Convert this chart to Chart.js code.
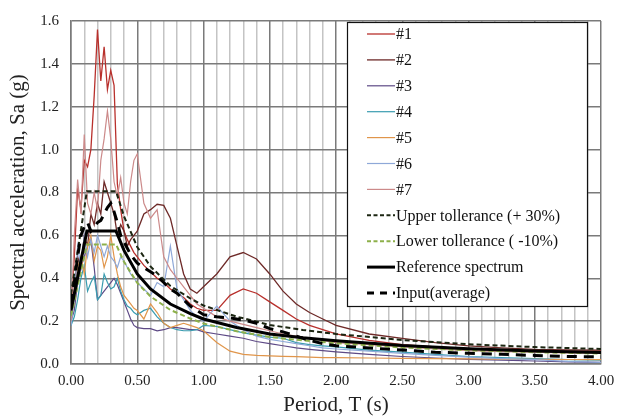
<!DOCTYPE html>
<html>
<head>
<meta charset="utf-8">
<script src="https://cdn.jsdelivr.net/npm/chart.js@4.4.0/dist/chart.umd.min.js"></script>
<style>
  html, body { margin: 0; padding: 0; background: #fff; }
  #wrap { width: 625px; height: 418px; }
</style>
</head>
<body>
<div id="wrap"><canvas id="spectra" width="625" height="418"></canvas></div>
<script>
// Periods (s) shared by the seven records and the input average
const periods = [0, 0.025, 0.05, 0.075, 0.1, 0.125, 0.15, 0.175, 0.2, 0.225, 0.25, 0.275, 0.3, 0.325, 0.35, 0.375, 0.4, 0.425, 0.45, 0.475, 0.5,
  0.55, 0.6, 0.65, 0.7, 0.75, 0.8, 0.85, 0.9, 0.95, 1.0,
  1.1, 1.2, 1.3, 1.4, 1.5, 1.6, 1.7, 1.8, 1.9, 2.0,
  2.25, 2.5, 2.75, 3.0, 3.25, 3.5, 3.75, 4.0];

// Spectral acceleration (g) of each record
const rec1 = [0.25, 0.5, 0.82, 0.72, 0.95, 0.92, 1.0, 1.25, 1.56, 1.32, 1.48, 1.28, 1.37, 1.3, 0.84, 0.72, 0.62, 0.58, 0.55, 0.52, 0.5,
  0.46, 0.43, 0.4, 0.38, 0.35, 0.33, 0.31, 0.28, 0.26, 0.25,
  0.25, 0.32, 0.35, 0.33, 0.29, 0.25, 0.21, 0.18, 0.16, 0.14,
  0.11, 0.09, 0.08, 0.07, 0.065, 0.06, 0.06, 0.06];
const rec2 = [0.22, 0.35, 0.5, 0.45, 0.6, 0.55, 0.7, 0.65, 0.75, 0.7, 0.85, 0.8, 0.75, 0.7, 0.6, 0.65, 0.62, 0.55, 0.58, 0.6, 0.62,
  0.7, 0.72, 0.745, 0.74, 0.68, 0.55, 0.42, 0.35, 0.33, 0.36,
  0.42, 0.5, 0.52, 0.49, 0.42, 0.34, 0.28, 0.24, 0.21, 0.18,
  0.14, 0.12, 0.1, 0.085, 0.075, 0.068, 0.066, 0.065];
const rec3 = [0.2, 0.25, 0.38, 0.45, 0.5, 0.55, 0.58, 0.45, 0.3, 0.32, 0.34, 0.36, 0.38, 0.4, 0.37, 0.33, 0.29, 0.25, 0.21, 0.18, 0.17,
  0.165, 0.165, 0.155, 0.16, 0.17, 0.17, 0.165, 0.16, 0.16, 0.15,
  0.14, 0.13, 0.12, 0.105, 0.095, 0.085, 0.075, 0.068, 0.062, 0.057,
  0.045, 0.035, 0.028, 0.022, 0.018, 0.014, 0.01, 0.008];
const rec4 = [0.18, 0.22, 0.3, 0.4, 0.46, 0.34, 0.38, 0.41, 0.3, 0.32, 0.42, 0.38, 0.35, 0.36, 0.4, 0.34, 0.3, 0.27, 0.26, 0.24, 0.23,
  0.25, 0.26, 0.22, 0.19, 0.17, 0.16, 0.155, 0.155, 0.16, 0.18,
  0.175, 0.16, 0.145, 0.135, 0.125, 0.12, 0.1, 0.09, 0.085, 0.08,
  0.065, 0.055, 0.045, 0.035, 0.03, 0.025, 0.02, 0.018];
const rec5 = [0.2, 0.3, 0.45, 0.5, 0.42, 0.55, 0.6, 0.48, 0.55, 0.53, 0.45, 0.5, 0.6, 0.5, 0.42, 0.36, 0.32, 0.3, 0.28, 0.26, 0.25,
  0.21, 0.28, 0.24, 0.19, 0.17, 0.18, 0.19, 0.18, 0.17, 0.155,
  0.1, 0.06, 0.045, 0.04, 0.038, 0.036, 0.034, 0.032, 0.03, 0.03,
  0.028, 0.026, 0.025, 0.024, 0.023, 0.022, 0.021, 0.02];
const rec6 = [0.18, 0.3, 0.55, 0.45, 0.6, 0.5, 0.58, 0.52, 0.6, 0.55, 0.5, 0.55, 0.5, 0.48, 0.45, 0.5, 0.48, 0.45, 0.42, 0.4, 0.38,
  0.35, 0.32, 0.38, 0.36, 0.55, 0.35, 0.3, 0.25, 0.22, 0.2,
  0.27, 0.2, 0.16, 0.13, 0.115, 0.105, 0.095, 0.085, 0.075, 0.07,
  0.06, 0.05, 0.04, 0.032, 0.025, 0.02, 0.012, 0.008];
const rec7 = [0.2, 0.6, 0.86, 0.7, 1.07, 0.75, 0.7, 0.8, 0.72, 0.95, 1.05, 1.18, 1.05, 0.85, 0.78, 0.87, 0.75, 0.7, 0.85, 0.95, 0.98,
  0.75, 0.68, 0.72, 0.5, 0.44, 0.4, 0.36, 0.32, 0.28, 0.26,
  0.22, 0.2, 0.185, 0.17, 0.155, 0.14, 0.13, 0.12, 0.11, 0.1,
  0.09, 0.08, 0.07, 0.062, 0.058, 0.055, 0.052, 0.05];
const inputAvg = [0.28, 0.38, 0.5, 0.6, 0.64, 0.66, 0.62, 0.64, 0.66, 0.67, 0.7, 0.73, 0.75, 0.71, 0.66, 0.6, 0.57, 0.54, 0.51, 0.49, 0.47,
  0.45, 0.43, 0.41, 0.38, 0.35, 0.33, 0.3, 0.27, 0.25, 0.23,
  0.22, 0.215, 0.205, 0.19, 0.165, 0.15, 0.13, 0.11, 0.095, 0.085,
  0.075, 0.065, 0.055, 0.05, 0.045, 0.04, 0.035, 0.033];

// Reference (target) spectrum and its tolerance bands
const refPeriods = [0, 0.12, 0.34, 0.4, 0.5, 0.6, 0.75, 0.9, 1.0, 1.25, 1.5, 1.75, 2.0, 2.5, 3.0, 3.5, 4.0];
const refSa   = [0.25, 0.62, 0.62, 0.53, 0.42, 0.35, 0.28, 0.235, 0.21, 0.17, 0.14, 0.122, 0.108, 0.086, 0.071, 0.061, 0.054];
const upperSa = [0.325, 0.806, 0.806, 0.689, 0.546, 0.455, 0.364, 0.306, 0.273, 0.221, 0.182, 0.159, 0.14, 0.112, 0.092, 0.079, 0.07];
const lowerSa = [0.225, 0.558, 0.558, 0.477, 0.378, 0.315, 0.252, 0.212, 0.189, 0.153, 0.126, 0.11, 0.097, 0.077, 0.064, 0.055, 0.049];

const seriesNames = ['#1', '#2', '#3', '#4', '#5', '#6', '#7',
  'Upper tollerance (+ 30%)', 'Lower tollerance ( -10%)', 'Reference spectrum', 'Input(average)'];

const SERIF = '"Liberation Serif", "Times New Roman", serif';

function pts(xs, ys) {
    return xs.map((x, i) => ({ x: x, y: ys[i] }));
}

function isMajorX(v) {
    return Math.abs(v * 2 - Math.round(v * 2)) < 1e-6;
}

const records = [rec1, rec2, rec3, rec4, rec5, rec6, rec7];
const recColors = ['#b8302c', '#6e2a28', '#5e4a86', '#3a9cb0', '#e0954a', '#8ea8d8', '#cc8a8a'];
const recWidths = [1.3, 1.3, 1.2, 1.2, 1.2, 1.2, 1.2];

const datasets = records.map((r, i) => ({
    label: seriesNames[i],
    data: pts(periods, r),
    borderColor: recColors[i],
    borderWidth: recWidths[i],
    order: 20 - i
}));

datasets.push({ label: seriesNames[7], data: pts(refPeriods, upperSa), borderColor: '#1c2612', borderWidth: 2, borderDash: [5, 3], order: 3 });
datasets.push({ label: seriesNames[8], data: pts(refPeriods, lowerSa), borderColor: '#8db04a', borderWidth: 2, borderDash: [5, 3], order: 4 });
datasets.push({ label: seriesNames[9], data: pts(refPeriods, refSa), borderColor: '#000', borderWidth: 3, order: 1 });
datasets.push({ label: seriesNames[10], data: pts(periods, inputAvg), borderColor: '#000', borderWidth: 3, borderDash: [10, 7], order: 2 });

/**
 * Legenda w ramce wewnątrz obszaru wykresu.
 */
const boxLegend = {
    id: 'boxLegend',
    afterDatasetsDraw(chart) {
        const ctx = chart.ctx;
        const bx = 347, by = 22, bw = 240, bh = 284;
        ctx.save();
        ctx.fillStyle = '#fff';
        ctx.fillRect(bx, by, bw, bh);
        ctx.strokeStyle = '#111';
        ctx.lineWidth = 1.2;
        ctx.strokeRect(bx + 0.5, by + 0.5, bw, bh);
        ctx.font = '16px ' + SERIF;
        ctx.textBaseline = 'middle';
        ctx.fillStyle = '#111';
        chart.data.datasets.forEach((ds, i) => {
            const y = 34 + i * 25.9;
            ctx.beginPath();
            ctx.strokeStyle = ds.borderColor;
            ctx.lineWidth = ds.borderWidth;
            ctx.setLineDash(ds.borderDash ? (ds.borderDash[0] > 6 ? [7, 6] : [4, 2.5]) : []);
            ctx.moveTo(367, y);
            ctx.lineTo(395, y);
            ctx.stroke();
            ctx.setLineDash([]);
            ctx.fillText(ds.label, 396, y + 1);
        });
        ctx.restore();
    }
};

new Chart(document.getElementById('spectra'), {
    type: 'line',
    data: { datasets: datasets },
    options: {
        responsive: false,
        animation: false,
        devicePixelRatio: 1,
        elements: { point: { radius: 0 }, line: { tension: 0, fill: false } },
        layout: { padding: { top: 11, right: 24, left: 0, bottom: 0 } },
        plugins: { legend: { display: false }, tooltip: { enabled: false } },
        scales: {
            x: {
                type: 'linear',
                min: 0, max: 4,
                afterFit(scale) { scale.height = 54; },
                ticks: {
                    stepSize: 0.1,
                    autoSkip: false,
                    maxRotation: 0,
                    padding: 8,
                    color: '#222',
                    font: { family: SERIF, size: 15 },
                    callback: v => isMajorX(v) ? v.toFixed(2) : ''
                },
                grid: {
                    drawTicks: false,
                    color: c => isMajorX(c.tick.value) ? '#7a7a7a' : '#c4c4c4',
                    lineWidth: 1.5
                },
                border: { color: '#7a7a7a', width: 1.5 },
                title: {
                    display: true,
                    text: 'Period, T (s)',
                    color: '#222',
                    font: { family: SERIF, size: 21 },
                    padding: { top: 0, bottom: 0 }
                }
            },
            y: {
                min: 0, max: 1.6,
                afterFit(scale) { scale.width = 71; },
                ticks: {
                    stepSize: 0.2,
                    padding: 12,
                    color: '#222',
                    font: { family: SERIF, size: 15 },
                    callback: v => v.toFixed(1)
                },
                grid: { drawTicks: false, color: '#7a7a7a', lineWidth: 1.5 },
                border: { color: '#7a7a7a', width: 1.5 },
                title: {
                    display: true,
                    text: 'Spectral acceleration, Sa (g)',
                    color: '#222',
                    font: { family: SERIF, size: 21 },
                    padding: { top: 6, bottom: 0 }
                }
            }
        }
    },
    plugins: [boxLegend]
});
</script>
</body>
</html>
